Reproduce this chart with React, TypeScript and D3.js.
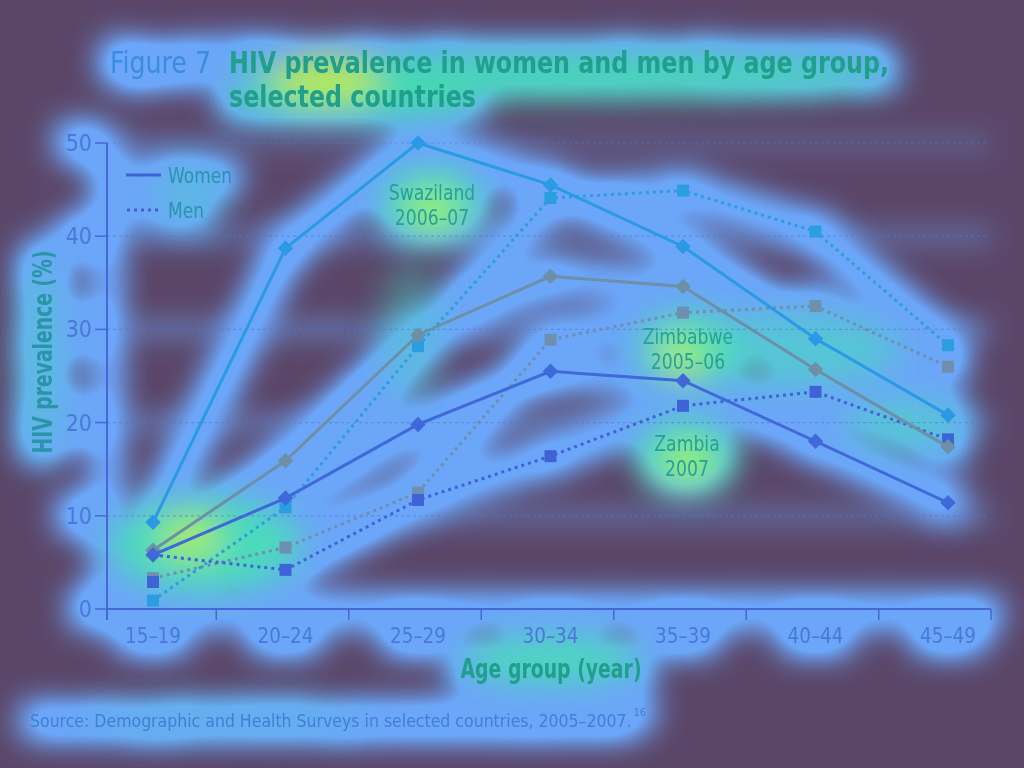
import { useEffect, useRef } from 'react';
import * as d3 from 'd3';

// HIV prevalence (%) by age group
const ageGroups = ['15–19', '20–24', '25–29', '30–34', '35–39', '40–44', '45–49'];
const swazilandWomen = [9.3, 38.7, 50.0, 45.5, 38.9, 29.0, 20.8];
const swazilandMen = [0.9, 10.9, 28.2, 44.1, 44.9, 40.5, 28.3];
const zimbabweWomen = [6.3, 15.9, 29.4, 35.7, 34.6, 25.7, 17.4];
const zimbabweMen = [3.3, 6.6, 12.5, 28.9, 31.8, 32.5, 26.0];
const zambiaWomen = [5.8, 11.9, 19.8, 25.5, 24.5, 18.0, 11.4];
const zambiaMen = [2.9, 4.2, 11.7, 16.4, 21.8, 23.3, 18.2];
const yTicks = [0, 10, 20, 30, 40, 50];

interface Series {
  values: number[];
  men: boolean;
  color: string;
  // the original draws the Zambia men line from the women's first point
  startFrom?: number[];
}

const series: Series[] = [
  { values: zimbabweMen, men: true, color: '#6f8fae' },
  { values: zambiaMen, men: true, color: '#3f62d6', startFrom: zambiaWomen },
  { values: swazilandMen, men: true, color: '#2a9ee0' },
  { values: zimbabweWomen, men: false, color: '#6d8fa8' },
  { values: zambiaWomen, men: false, color: '#3f68d8' },
  { values: swazilandWomen, men: false, color: '#2a9ae6' },
];

const countryLabels = [
  { lines: ['Swaziland', '2006–07'], at: '25–29', dx: 14, v: 43.4 },
  { lines: ['Zimbabwe', '2005–06'], at: '35–39', dx: 5, v: 27.9 },
  { lines: ['Zambia', '2007'], at: '35–39', dx: 4, v: 16.4 },
];

const FONT = "'Liberation Sans Narrow', 'DejaVu Sans Condensed', 'Roboto', sans-serif";

export default function App() {
  const svgRef = useRef<SVGSVGElement>(null);

  useEffect(() => {
    if (!svgRef.current) return;
    const width = 1024;
    const height = 768;
    const svg = d3.select(svgRef.current);
    svg.selectAll('*').remove();
    svg.attr('width', width).attr('height', height);

    const x = d3.scalePoint<string>().domain(ageGroups).range([153, 948]);
    const y = d3.scaleLinear().domain([0, 50]).range([609, 143]);
    const left = 107;
    const right = 991;

    // squeeze text to the narrow face of the original
    const narrow = (t: d3.Selection<SVGTextElement, any, any, any>, f: number) => {
      t.each(function () {
        const len = this.getComputedTextLength();
        d3.select(this).attr('textLength', len * f).attr('lengthAdjust', 'spacingAndGlyphs');
      });
    };

    const defs = svg.append('defs');
    const glowFilter = (id: string, dilate: number, blur: number, slope: number) => {
      const f = defs
        .append('filter')
        .attr('id', id)
        .attr('filterUnits', 'userSpaceOnUse')
        .attr('x', 0).attr('y', 0).attr('width', width).attr('height', height);
      f.append('feMorphology').attr('in', 'SourceAlpha').attr('operator', 'dilate').attr('radius', dilate).attr('result', 'd');
      f.append('feGaussianBlur').attr('in', 'd').attr('stdDeviation', blur).attr('result', 'b');
      f.append('feComponentTransfer').attr('in', 'b').attr('result', 'a')
        .append('feFuncA').attr('type', 'linear').attr('slope', slope);
      f.append('feFlood').attr('flood-color', '#6ca6f8');
      f.append('feComposite').attr('in2', 'a').attr('operator', 'in');
    };
    glowFilter('glow', 7, 17, 2.4);
    glowFilter('gridglow', 5, 14, 1.6);

    const heat = defs
      .append('filter')
      .attr('id', 'heat')
      .attr('filterUnits', 'userSpaceOnUse')
      .attr('x', 0).attr('y', 0).attr('width', width).attr('height', height);
    heat.append('feGaussianBlur').attr('stdDeviation', 16);

    // Background
    svg.append('rect').attr('width', width).attr('height', height).attr('fill', '#5b4668');
    svg.append('use').attr('href', '#grid').attr('filter', 'url(#gridglow)');
    svg.append('use').attr('href', '#content').attr('filter', 'url(#glow)');

    // Hot spots of the overlay
    const spots = svg.append('g').attr('filter', 'url(#heat)');
    const hot = (cx: number, cy: number, rx: number, ry: number, fill: string, op: number) =>
      spots.append('ellipse').attr('cx', cx).attr('cy', cy).attr('rx', rx).attr('ry', ry)
        .attr('fill', fill).attr('opacity', op);
    hot(560, 76, 330, 22, '#3ee0a8', 0.85);
    hot(350, 102, 125, 16, '#3ee0a8', 0.85);
    hot(325, 80, 55, 22, '#c8f040', 0.9);
    countryLabels.forEach((l, i) => {
      const cx = (x(l.at) ?? 0) + l.dx;
      const cy = y(l.v);
      hot(cx, cy, 50, 36, '#44e4b0', 0.9);
      hot(cx, cy + 6, 26, 18, i === 1 ? '#d8f040' : '#a8f060', 0.95);
    });
    hot(790, 350, 110, 36, '#44e0b8', 0.55);
    hot(905, 425, 60, 25, '#44e0b8', 0.55);
    hot(205, 545, 95, 48, '#44e4b0', 0.85);
    hot(190, 538, 30, 20, '#b8f048', 0.9);
    hot(410, 330, 30, 70, '#44d8c0', 0.4);
    hot(551, 660, 90, 24, '#44e4b0', 0.8);
    hot(40, 360, 22, 100, '#44d8c0', 0.45);
    hot(190, 195, 35, 30, '#44d8c0', 0.35);
    hot(220, 718, 140, 14, '#44d8c0', 0.3);

    // Gridlines
    const grid = svg.append('g').attr('id', 'grid');
    grid.selectAll('line')
      .data(yTicks.filter((t) => t > 0))
      .join('line')
      .attr('x1', left).attr('x2', right - 2)
      .attr('y1', (d) => y(d)).attr('y2', (d) => y(d))
      .attr('stroke', '#5474d0').attr('stroke-opacity', 0.55)
      .attr('stroke-width', 1.2).attr('stroke-dasharray', '3 3');

    const g = svg.append('g').attr('id', 'content').style('font-family', FONT);

    // Title
    g.append('text').attr('x', 110).attr('y', 73).attr('font-size', 31)
      .attr('fill', '#3b8ce0').attr('textLength', 101).attr('lengthAdjust', 'spacingAndGlyphs')
      .text('Figure 7');
    g.append('text').attr('x', 229).attr('y', 73).attr('font-size', 31).attr('font-weight', 'bold')
      .attr('fill', '#1f9f8c').attr('textLength', 660).attr('lengthAdjust', 'spacingAndGlyphs')
      .text('HIV prevalence in women and men by age group,');
    g.append('text').attr('x', 229).attr('y', 107).attr('font-size', 31).attr('font-weight', 'bold')
      .attr('fill', '#1f9f8c').attr('textLength', 247).attr('lengthAdjust', 'spacingAndGlyphs')
      .text('selected countries');

    // Axes
    const axisColor = '#4767d6';
    g.append('line').attr('x1', left).attr('x2', left).attr('y1', y(50)).attr('y2', y(0) + 11)
      .attr('stroke', axisColor).attr('stroke-width', 2);
    g.append('line').attr('x1', left).attr('x2', right).attr('y1', y(0)).attr('y2', y(0))
      .attr('stroke', axisColor).attr('stroke-width', 2);
    g.selectAll('.ytick')
      .data(yTicks)
      .join('line')
      .attr('x1', left - 12).attr('x2', left)
      .attr('y1', (d) => y(d)).attr('y2', (d) => y(d))
      .attr('stroke', axisColor).attr('stroke-width', 1.5);
    g.selectAll('.ylab')
      .data(yTicks)
      .join('text')
      .attr('x', left - 15).attr('y', (d) => y(d) + 8)
      .attr('text-anchor', 'end').attr('font-size', 23).attr('fill', '#4a78d8')
      .text((d) => d);

    const step = x.step();
    const bounds = ageGroups.slice(1).map((a) => (x(a) ?? 0) - step / 2 - 3);
    g.selectAll('.xtick')
      .data([...bounds, right])
      .join('line')
      .attr('x1', (d) => d).attr('x2', (d) => d)
      .attr('y1', y(0)).attr('y2', y(0) + 11)
      .attr('stroke', axisColor).attr('stroke-width', 1.5);
    const xlabs = g.selectAll<SVGTextElement, string>('.xlab')
      .data(ageGroups)
      .join('text')
      .attr('x', (d) => x(d) ?? 0).attr('y', 643)
      .attr('text-anchor', 'middle').attr('font-size', 22).attr('fill', '#4a78d8')
      .text((d) => d);
    narrow(xlabs, 0.93);

    g.append('text').attr('x', 551).attr('y', 678).attr('text-anchor', 'middle')
      .attr('font-size', 26).attr('font-weight', 'bold').attr('fill', '#1f9f8c')
      .attr('textLength', 181).attr('lengthAdjust', 'spacingAndGlyphs')
      .text('Age group (year)');
    g.append('text').attr('transform', 'translate(52,352) rotate(-90)').attr('text-anchor', 'middle')
      .attr('font-size', 26).attr('font-weight', 'bold').attr('fill', '#2a94aa')
      .attr('textLength', 203).attr('lengthAdjust', 'spacingAndGlyphs')
      .text('HIV prevalence (%)');

    // Lines and markers
    const line = d3.line<[string, number]>()
      .x((d) => x(d[0]) ?? 0)
      .y((d) => y(d[1]));
    series.forEach((s) => {
      const pts: [string, number][] = ageGroups.map((a, i) => [a, s.values[i]]);
      if (s.startFrom) pts[0] = [ageGroups[0], s.startFrom[0]];
      g.append('path')
        .attr('d', line(pts))
        .attr('fill', 'none').attr('stroke', s.color).attr('stroke-width', 3)
        .attr('stroke-dasharray', s.men ? '3 4' : null);
      const marks = g.append('g');
      if (s.men) {
        marks.selectAll('rect')
          .data(s.values)
          .join('rect')
          .attr('x', (_, i) => (x(ageGroups[i]) ?? 0) - 6)
          .attr('y', (d) => y(d) - 6)
          .attr('width', 12).attr('height', 12)
          .attr('fill', s.color);
      } else {
        marks.selectAll('path')
          .data(s.values)
          .join('path')
          .attr('transform', (d, i) => `translate(${x(ageGroups[i])},${y(d)}) rotate(45)`)
          .attr('d', 'M-5.5,-5.5H5.5V5.5H-5.5Z')
          .attr('fill', s.color);
      }
    });

    // Country labels
    countryLabels.forEach((l) => {
      l.lines.forEach((ln, i) => {
        const t = g.append('text')
          .attr('x', (x(l.at) ?? 0) + l.dx).attr('y', y(l.v) - 5 + i * 25)
          .attr('text-anchor', 'middle').attr('font-size', 22).attr('fill', '#28a09a')
          .text(ln);
        narrow(t, 0.87);
      });
    });

    // Legend
    g.append('line').attr('x1', 126).attr('x2', 161).attr('y1', 175).attr('y2', 175)
      .attr('stroke', '#3f62d2').attr('stroke-width', 3);
    g.append('line').attr('x1', 127).attr('x2', 161).attr('y1', 210).attr('y2', 210)
      .attr('stroke', '#3f62d2').attr('stroke-width', 3).attr('stroke-dasharray', '3 4');
    narrow(g.append('text').attr('x', 168).attr('y', 183).attr('font-size', 22).attr('fill', '#2a94b0').text('Women'), 0.86);
    narrow(g.append('text').attr('x', 168).attr('y', 218).attr('font-size', 22).attr('fill', '#2a94b0').text('Men'), 0.86);

    // Source, footnote mark placed right after the measured text
    const src = g.append('text').attr('x', 30).attr('y', 727).attr('font-size', 17.5).attr('fill', '#3f7fd8')
      .text('Source: Demographic and Health Surveys in selected countries, 2005–2007.');
    const srcEnd = 30 + (src.node()?.getComputedTextLength() ?? 604);
    g.append('text').attr('x', srcEnd + 2).attr('y', 716).attr('font-size', 11).attr('fill', '#3f7fd8').text('16');
  }, []);

  return (
    <svg
      ref={svgRef}
      style={{ position: 'fixed', top: 0, left: 0, display: 'block' }}
    />
  );
}
